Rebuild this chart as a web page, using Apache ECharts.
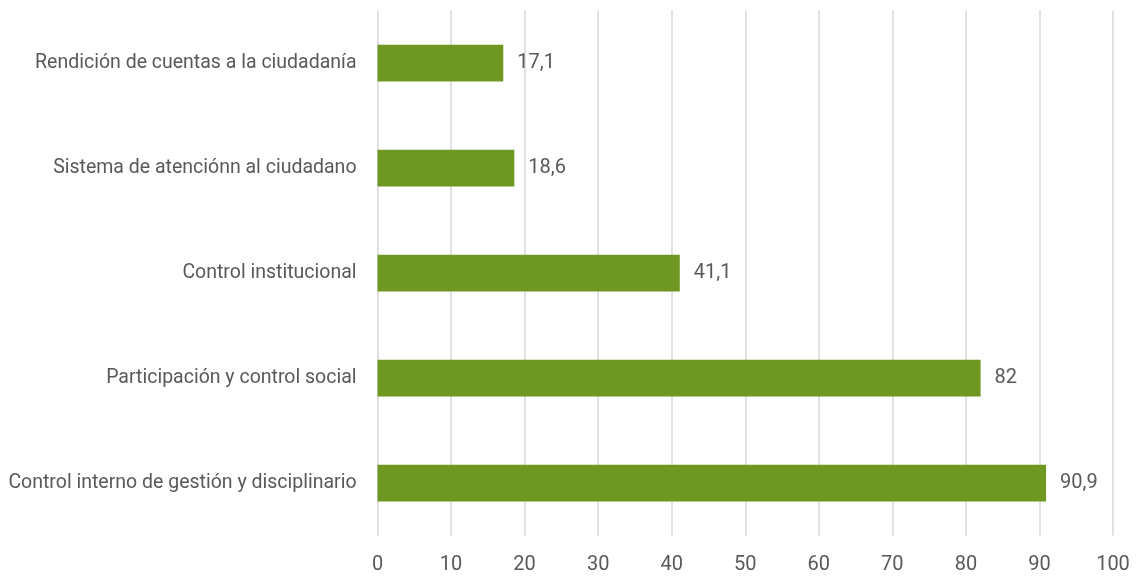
<!DOCTYPE html>
<html><head><meta charset="utf-8">
<script src="https://cdn.jsdelivr.net/npm/echarts@6/dist/echarts.min.js"></script>
<style>html,body{margin:0;padding:0;background:#fff}#c{width:1136px;height:577px}</style>
</head><body><div id="c"></div>
<script>
const categories = [
  "Control interno de gestión y disciplinario",
  "Participación y control social",
  "Control institucional",
  "Sistema de atenciónn al ciudadano",
  "Rendición de cuentas a la ciudadanía"
];
const values = [90.9, 82, 41.1, 18.6, 17.1];
const xTicks = [0,10,20,30,40,50,60,70,80,90,100];

const font = "Roboto, 'Liberation Sans', Arial, sans-serif";
const chart = echarts.init(document.getElementById('c'), null, {renderer:'canvas'});
chart.setOption({
  animation:false,
  backgroundColor:'#ffffff',
  grid:{left:377.5, right:23, top:10.5, height:525, containLabel:false, outerBoundsMode:'none'},
  xAxis:{
    type:'value', min:xTicks[0], max:xTicks[xTicks.length-1], interval:10,
    axisLine:{show:false}, axisTick:{show:false},
    splitLine:{show:true, lineStyle:{color:'#e0e0e5', width:2}},
    axisLabel:{color:'#595959', fontSize:20, fontFamily:font, margin:19,
      formatter:v=>String(v)}
  },
  yAxis:{
    type:'category', data:categories,
    axisLine:{show:false}, axisTick:{show:false},
    axisLabel:{color:'#595959', fontSize:19.5, fontFamily:font, margin:21}
  },
  series:[{
    type:'bar', data:values, barWidth:'35%',
    itemStyle:{color:'#6f9823'},
    label:{show:true, position:'right', distance:14, color:'#595959', fontSize:20, fontFamily:font,
      formatter:p=>String(p.value).replace('.',',')}
  }]
});
</script></body></html>
